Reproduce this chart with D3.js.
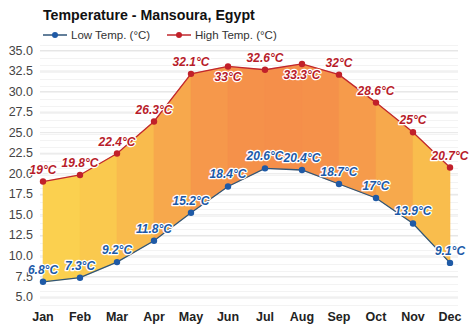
<!DOCTYPE html>
<html>
<head>
<meta charset="utf-8">
<script src="https://cdn.jsdelivr.net/npm/d3@7"></script>
<style>
  html, body { margin: 0; padding: 0; background: #fff; }
  svg { display: block; font-family: "Liberation Sans", Arial, sans-serif; }
</style>
</head>
<body>
<svg id="chart" width="474" height="331"></svg>
<script>
const months = ["Jan","Feb","Mar","Apr","May","Jun","Jul","Aug","Sep","Oct","Nov","Dec"];
const lowTemps = [6.8, 7.3, 9.2, 11.8, 15.2, 18.4, 20.6, 20.4, 18.7, 17, 13.9, 9.1];
const highTemps = [19, 19.8, 22.4, 26.3, 32.1, 33, 32.6, 33.3, 32, 28.6, 25, 20.7];
const yTicks = [5, 7.5, 10, 12.5, 15, 17.5, 20, 22.5, 25, 27.5, 30, 32.5, 35];
// high-temperature labels that sit under their point
const highBelow = ["Jun", "Aug"];

const svg = d3.select("#chart");

const x = d3.scalePoint().domain(months).range([43, 450]);
const y = d3.scaleLinear().domain([5, 35]).range([296.6, 50]);

const fmt = v => `${v}°C`;

// grid: faint minor lines, slightly stronger at each tick
const minor = d3.range(4, 36.01, 2.5 / 3);
svg.append("g").selectAll("line").data(minor).join("line")
  .attr("x1", 40).attr("x2", 458)
  .attr("y1", d => Math.round(y(d)) + 0.5).attr("y2", d => Math.round(y(d)) + 0.5)
  .attr("stroke", "#f3f3f3").attr("stroke-width", 1);

const yAxis = d3.axisLeft(y).tickValues(yTicks).tickFormat(d3.format(".1f"))
  .tickSize(-418).tickPadding(7);
const gy = svg.append("g").attr("transform", "translate(40,0)").call(yAxis);
gy.select(".domain").remove();
gy.selectAll(".tick line").attr("stroke", "#e6e6e6");
gy.selectAll(".tick text").attr("fill", "#444").attr("font-size", 12.5)
  .attr("font-family", "'Liberation Sans', Arial, sans-serif");

// filled band between low and high, one segment per month interval,
// shaded by the interval's mean temperature
const avg = months.map((m, i) => (lowTemps[i] + highTemps[i]) / 2);
const color = d3.scaleLinear().domain([13, 26.5])
  .range(["#fbd14f", "#f58f4a"]).interpolate(d3.interpolateRgb).clamp(true);

const band = d3.area()
  .x(j => x(months[j]))
  .y0(j => y(lowTemps[j]))
  .y1(j => y(highTemps[j]));
const segs = d3.range(months.length - 1);
svg.append("g").selectAll("path").data(segs).join("path")
  .attr("d", i => band([i, i + 1]))
  .attr("fill", i => color((avg[i] + avg[i + 1]) / 2))
  .attr("stroke", i => color((avg[i] + avg[i + 1]) / 2))
  .attr("stroke-width", 0.6);

// lines
const lineOf = arr => d3.line().x((d, i) => x(months[i])).y(d => y(d))(arr);
svg.append("path").attr("d", lineOf(highTemps)).attr("fill", "none")
  .attr("stroke", "#c1272d").attr("stroke-width", 1.3);
svg.append("path").attr("d", lineOf(lowTemps)).attr("fill", "none")
  .attr("stroke", "#2f5578").attr("stroke-width", 1.3);

// points
svg.append("g").selectAll("circle").data(highTemps).join("circle")
  .attr("cx", (d, i) => x(months[i])).attr("cy", d => y(d)).attr("r", 3.2)
  .attr("fill", "#c1202a");
svg.append("g").selectAll("circle").data(lowTemps).join("circle")
  .attr("cx", (d, i) => x(months[i])).attr("cy", d => y(d)).attr("r", 3.2)
  .attr("fill", "#1f5aa6");

// value labels with white halo
function labels(data, fill, belowSet) {
  const g = svg.append("g")
    .attr("font-size", 12).attr("font-weight", "bold").attr("font-style", "italic")
    .attr("text-anchor", "middle");
  g.selectAll("text").data(data).join("text")
    .attr("x", (d, i) => x(months[i]))
    .attr("y", (d, i) => y(d) + (belowSet.includes(months[i]) ? 15 : -8))
    .attr("fill", fill)
    .attr("stroke", "#fff").attr("stroke-width", 2.5).attr("stroke-linejoin", "round")
    .attr("paint-order", "stroke")
    .text(d => fmt(d));
}
labels(highTemps, "#b81c2a", highBelow);
labels(lowTemps, "#1c5aa8", []);

// x axis labels
svg.append("g").selectAll("text").data(months).join("text")
  .attr("x", d => x(d)).attr("y", 321)
  .attr("text-anchor", "middle").attr("font-size", 12.5).attr("font-weight", "bold")
  .attr("fill", "#222").text(d => d);

// title
svg.append("text").attr("x", 43).attr("y", 20)
  .attr("font-size", 14.2).attr("font-weight", "bold").attr("fill", "#111")
  .text("Temperature - Mansoura, Egypt");

// legend
const legend = [
  { label: "Low Temp. (°C)", color: "#1f5aa6", line: "#2f5578", x: 43 },
  { label: "High Temp. (°C)", color: "#c1202a", line: "#c1272d", x: 167 }
];
const lg = svg.append("g").selectAll("g").data(legend).join("g")
  .attr("transform", d => `translate(${d.x},35)`);
lg.append("line").attr("x1", 0).attr("x2", 24).attr("y1", 0).attr("y2", 0)
  .attr("stroke", d => d.line).attr("stroke-width", 1.5);
lg.append("circle").attr("cx", 12).attr("cy", 0).attr("r", 3).attr("fill", d => d.color);
lg.append("text").attr("x", 28).attr("y", 4.2).attr("font-size", 11.5)
  .attr("fill", "#333").text(d => d.label);
</script>
</body>
</html>
